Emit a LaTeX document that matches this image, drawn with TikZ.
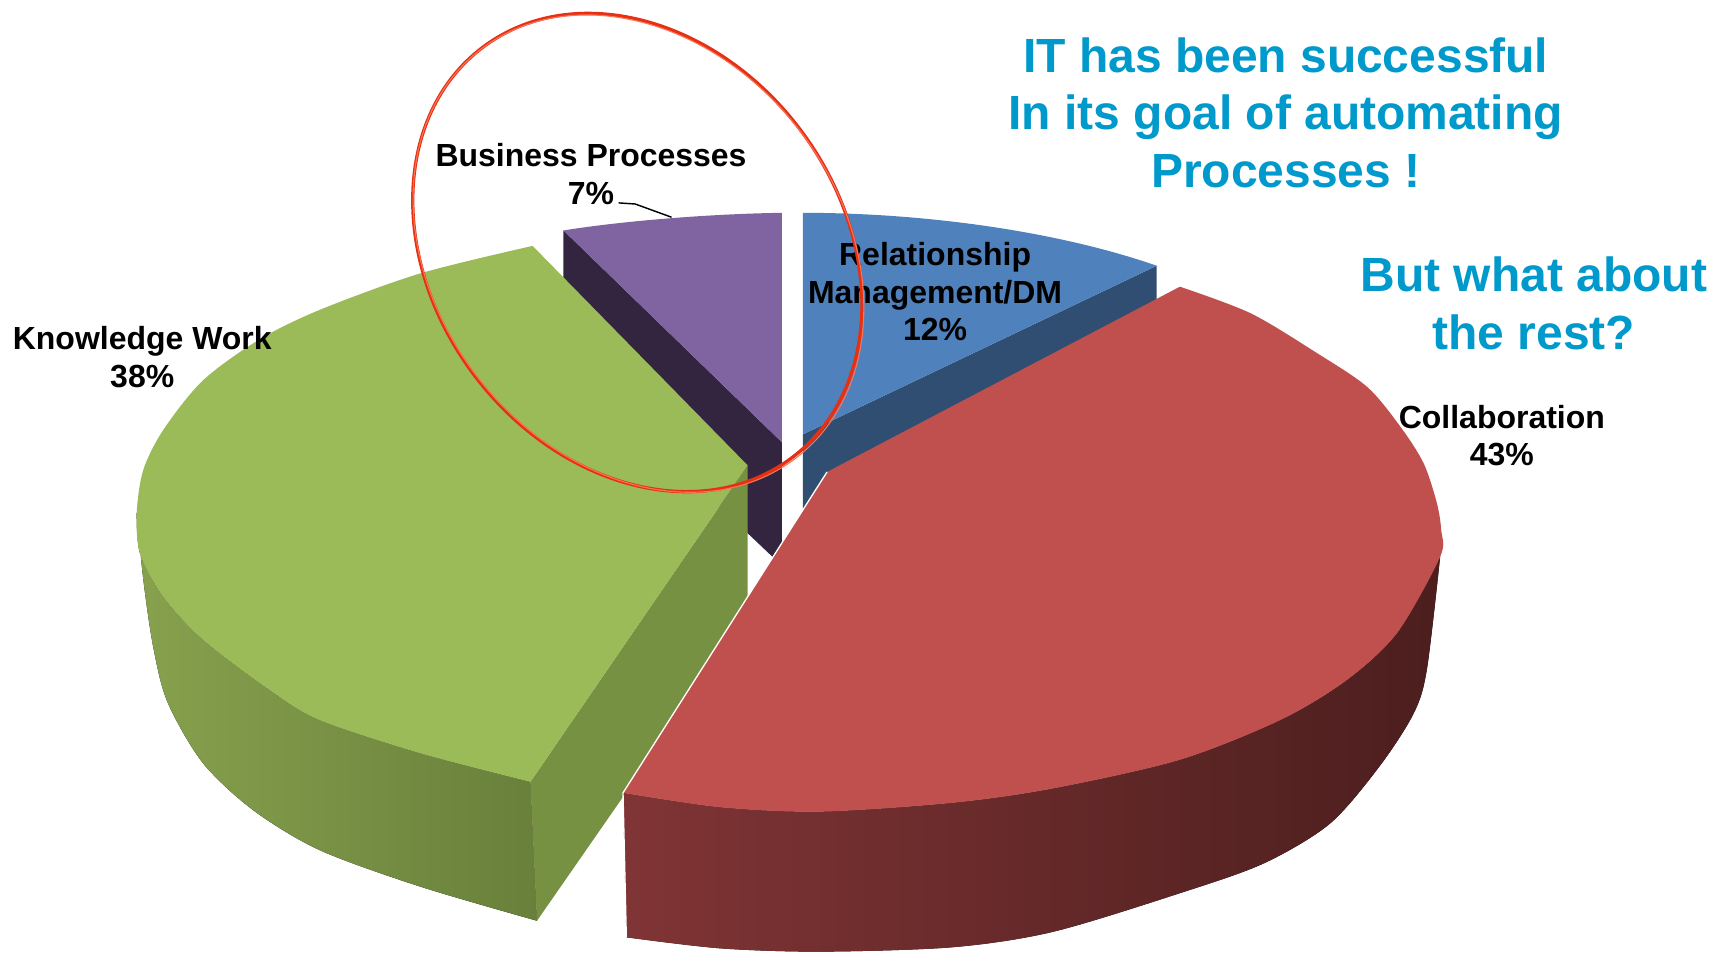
\documentclass[tikz,border=0pt]{standalone}
\usepackage{fontspec}
\setmainfont{Liberation Sans}
\definecolor{cGreenTop}{RGB}{155,187,89}
\definecolor{cGreenSideL}{RGB}{135,161,78}
\definecolor{cGreenSideR}{RGB}{104,128,58}
\definecolor{cGreenFace}{RGB}{119,145,66}
\definecolor{cRedTop}{RGB}{192,80,77}
\definecolor{cRedSideL}{RGB}{128,52,53}
\definecolor{cRedSideM}{RGB}{92,35,35}
\definecolor{cRedSideR}{RGB}{76,30,30}
\definecolor{cBlueTop}{RGB}{79,129,189}
\definecolor{cBlueDark}{RGB}{47,78,114}
\definecolor{cPurpleTop}{RGB}{128,100,162}
\definecolor{cPurpleDark}{RGB}{51,37,63}
\definecolor{cTitle}{RGB}{0,153,204}
\definecolor{cRing}{RGB}{230,48,20}
\definecolor{cRingHi}{RGB}{250,115,85}
\tikzset{
  lbl/.style={font=\bfseries\fontsize{29}{34}\selectfont, align=center, inner sep=0pt, anchor=north, text=black},
  headline/.style={font=\bfseries\fontsize{43.5}{52}\selectfont, align=center, inner sep=0pt, anchor=north, text=cTitle},
  ring/.style={draw=cRing, line width=3pt},
  ringhi/.style={draw=cRingHi, line width=1pt},
  leader/.style={draw=black, line width=1.3pt},
  sliceedge/.style={draw=white, line width=1.2pt},
}
\begin{document}
\begin{tikzpicture}[x=1pt,y=-1pt,line join=round]
\useasboundingbox (0,0) rectangle (1568,864);

% ---- Business Processes (purple) ----
\fill[cPurpleDark] (511,209) -- (709,401) -- (709,513) -- (511,325) -- cycle;
\fill[cPurpleTop] (511,209) .. controls (560,201) and (640,194) .. (709,193) -- (709,401) -- cycle;

% ---- Relationship Management (blue) ----
\fill[cBlueDark] (728,394) -- (1049,241) -- (1049,354) -- (728,507) -- cycle;
\fill[cBlueTop] (728,193) .. controls (840,193) and (960,210) .. (1049,241) -- (728,394) -- cycle;

% ---- Knowledge Work (green) ----
\fill[left color=cGreenSideL, right color=cGreenSideR]
  (124,465) -- plot[smooth] coordinates {(124,465) (130,526) (139,587) (152,637) (184,692) (230,735) (290,771) (381,804) (487,835)}
  -- (481,709)
  -- plot[smooth] coordinates {(481,709) (381,683) (290,653) (245,626) (184,580) (148,541) (127,502) (124,465)} -- cycle;
\fill[cGreenFace] (481,709) -- (678,422) -- (678,560) -- (487,835) -- cycle;
\fill[cGreenTop] (483,223) -- (678,422) -- (481,709)
  -- plot[smooth] coordinates {(481,709) (381,683) (290,653) (245,626) (184,580) (148,541) (127,502) (124,465) (130,426) (148,390) (184,345) (235,308) (290,281) (381,248) (483,223)} -- cycle;

% ---- Collaboration (red) ----
\fill[left color=cRedSideL, middle color=cRedSideM, right color=cRedSideR]
  (565,719) -- plot[smooth] coordinates {(565,719) (653,732) (744,736) (864,728) (955,715) (1070,689) (1161,653) (1221,617) (1267,574) (1306,505)}
  -- plot[smooth] coordinates {(1306,505) (1294,607) (1282,647) (1251,695) (1206,747) (1146,783) (1070,810) (955,845) (864,859) (744,863) (653,860) (568,850)} -- cycle;
\fill[cRedTop] (750,428) -- plot[smooth] coordinates {(1070,260) (1134,284) (1194,320) (1240,351) (1270,387) (1291,420) (1303,456) (1307,481) (1306,505) (1267,574) (1221,617) (1161,653) (1070,689) (955,715) (864,728) (744,736) (653,732) (565,719)} -- cycle;
\draw[sliceedge] (568,850) -- (565,719) -- (750,428);

% ---- labels ----
\node[headline] (title) at (1166,34) {IT has been successful\\In its goal of automating\\Processes !};
\node[headline] (rest) at (1391,233) {But what about\\the rest?};
\node[lbl] (bp) at (536,130) {Business Processes\\7\%};
\node[lbl] (rm) at (848,220) {Relationship\\Management/DM\\12\%};
\node[lbl] (kw) at (129,296) {Knowledge Work\\38\%};
\node[lbl] (co) at (1362,367) {Collaboration\\43\%};

% leader line of the 7% label
\coordinate (bpA) at (561,184);
\coordinate (bpB) at (576,185);
\coordinate (bpTip) at (609,197);
\draw[leader] (bpA) -- (bpB) -- (bpTip);

% ---- hand-drawn ring ----
\draw[ring, rotate around={-53:(578,229)}] (578,229) ellipse [x radius=233, y radius=185];
\draw[ringhi, rotate around={-52:(579,230)}] (579,230) ellipse [x radius=234, y radius=184];
\end{tikzpicture}
\end{document}
